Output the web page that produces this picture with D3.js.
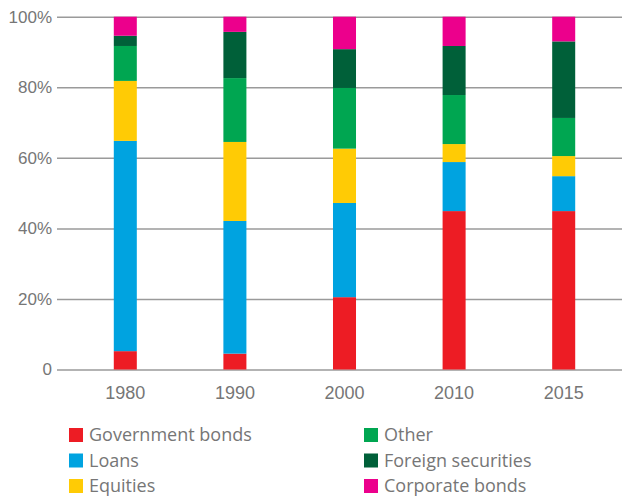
<!DOCTYPE html>
<html>
<head>
<meta charset="utf-8">
<script src="https://cdn.jsdelivr.net/npm/d3@7"></script>
<style>
  body { margin: 0; background: #fff; }
  svg { display: block; font-family: "Open Sans", "Noto Sans", sans-serif; }
</style>
</head>
<body>
<svg id="drawing_region"></svg>
<script>
// data (shares in %)
const years = ['1980', '1990', '2000', '2010', '2015'];
const seriesNames = ['Government bonds', 'Loans', 'Equities', 'Other', 'Foreign securities', 'Corporate bonds'];
const govBonds  = [5.2, 4.5, 20.5, 44.9, 44.9];
const loans     = [59.6, 37.6, 26.7, 13.9, 9.9];
const equities  = [17.0, 22.4, 15.4, 5.1, 5.7];
const other     = [9.9, 18.1, 17.2, 13.9, 10.8];
const foreign   = [2.9, 13.1, 11.0, 13.9, 21.7];
const corporate = [5.4, 4.3, 9.2, 8.3, 7.0];
const yTicks = [0, 20, 40, 60, 80, 100];

const colors = ['#ed1c24', '#00a3e0', '#ffcb05', '#00a651', '#006039', '#ec008c'];
const textColor = '#767676';

const width = 622, height = 498;
const svg = d3.select('#drawing_region')
    .attr('width', width)
    .attr('height', height);

const table = years.map((y, i) => ({
    year: y,
    'Government bonds': govBonds[i],
    'Loans': loans[i],
    'Equities': equities[i],
    'Other': other[i],
    'Foreign securities': foreign[i],
    'Corporate bonds': corporate[i]
}));

const stacked = d3.stack().keys(seriesNames)(table);

const x = d3.scaleBand()
    .domain(years)
    .range([70.5, 618.5])
    .paddingInner(0.79)
    .paddingOuter(0.395);

const y = d3.scaleLinear()
    .domain([0, 100])
    .range([369.5, 16.7]);

const color = d3.scaleOrdinal().domain(seriesNames).range(colors);

// y axis with gridlines
const gridLeft = 57;
const yAxis = svg.append('g')
    .attr('transform', `translate(${gridLeft},0)`)
    .call(d3.axisLeft(y)
        .tickValues(yTicks)
        .tickSize(-(width - gridLeft))
        .tickPadding(5)
        .tickFormat(d => d === 0 ? '0' : d + '%'));
yAxis.select('.domain').remove();
yAxis.selectAll('.tick line')
    .attr('stroke', '#9a9a9a')
    .attr('stroke-width', 1.5);
yAxis.selectAll('.tick text')
    .attr('fill', textColor)
    .style('font-size', '17px');

// bars
svg.append('g')
    .selectAll('g')
    .data(stacked)
    .join('g')
    .attr('fill', d => color(d.key))
    .selectAll('rect')
    .data(d => d)
    .join('rect')
    .attr('x', d => x(d.data.year))
    .attr('width', x.bandwidth())
    .attr('y', d => y(d[1]))
    .attr('height', d => y(d[0]) - y(d[1]));

// x axis labels
const xAxis = svg.append('g')
    .attr('transform', `translate(0,${y(0)})`)
    .call(d3.axisBottom(x).tickSize(0).tickPadding(16.5));
xAxis.select('.domain').remove();
xAxis.selectAll('.tick text')
    .attr('fill', textColor)
    .style('font-size', '18px');

// legend, two columns of three
const legendX = [69, 364];
const legendY = [435, 460.5, 486];
const legend = svg.append('g')
    .selectAll('g')
    .data(seriesNames)
    .join('g')
    .attr('transform', (d, i) => `translate(${legendX[Math.floor(i / 3)]},${legendY[i % 3]})`);
legend.append('rect')
    .attr('x', 0)
    .attr('y', -7)
    .attr('width', 14)
    .attr('height', 14)
    .attr('fill', d => color(d));
legend.append('text')
    .attr('x', 20)
    .attr('dy', '0.35em')
    .attr('fill', textColor)
    .style('font-size', '18px')
    .text(d => d);
</script>
</body>
</html>
